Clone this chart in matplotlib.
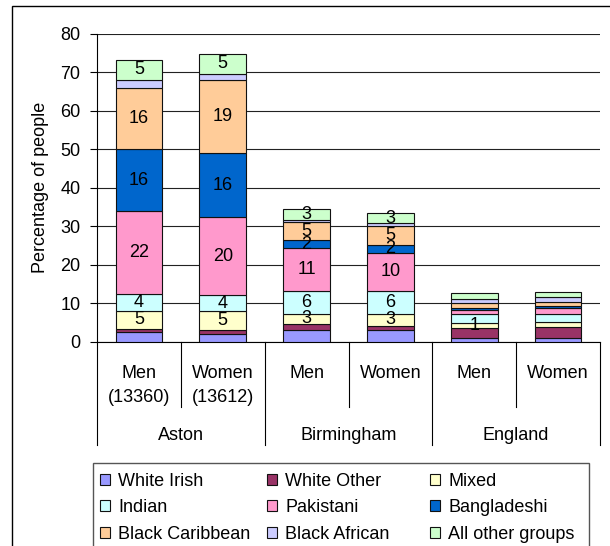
import matplotlib
matplotlib.use("Agg")
import matplotlib.pyplot as plt
from matplotlib.patches import Rectangle
from matplotlib import transforms
import numpy as np

plt.rcParams['font.family'] = ['Liberation Sans', 'DejaVu Sans']

# ---- data ----
categories = ["Men\n(13360)", "Women\n(13612)", "Men", "Women", "Men", "Women"]
groups = ["Aston", "Birmingham", "England"]

series_names = ["White Irish", "White Other", "Mixed", "Indian", "Pakistani",
                "Bangladeshi", "Black Caribbean", "Black African", "All other groups"]

white_irish     = [2.5, 2.2, 3.0, 3.0, 1.0, 1.0]
white_other     = [1.0, 0.9, 1.7, 1.2, 2.7, 2.9]
mixed           = [4.6, 5.0, 2.6, 3.1, 1.3, 1.3]
indian          = [4.3, 4.0, 6.0, 6.0, 2.2, 2.1]
pakistani       = [21.6, 20.4, 11.0, 9.9, 1.2, 1.6]
bangladeshi     = [16.0, 16.4, 2.1, 1.9, 0.4, 0.5]
black_caribbean = [15.8, 19.1, 4.7, 5.1, 1.4, 1.0]
black_african   = [2.1, 1.6, 0.5, 0.6, 1.0, 1.2]
all_other       = [5.3, 5.1, 3.0, 2.7, 1.6, 1.3]

# value labels shown on the chart (None = not shown)
white_irish_lbl     = [None] * 6
white_other_lbl     = [None] * 6
mixed_lbl           = [5, 5, 3, 3, 1, None]
indian_lbl          = [4, 4, 6, 6, None, None]
pakistani_lbl       = [22, 20, 11, 10, None, None]
bangladeshi_lbl     = [16, 16, 2, 2, None, None]
black_caribbean_lbl = [16, 19, 5, 5, None, None]
black_african_lbl   = [None] * 6
all_other_lbl       = [5, 5, 3, 3, None, None]

colors = ["#9999FF", "#993366", "#FFFFCC", "#CCFFFF", "#FF99CC",
          "#0066CC", "#FFCC99", "#CCCCFF", "#CCFFCC"]

values = [white_irish, white_other, mixed, indian, pakistani,
          bangladeshi, black_caribbean, black_african, all_other]
labels = [white_irish_lbl, white_other_lbl, mixed_lbl, indian_lbl, pakistani_lbl,
          bangladeshi_lbl, black_caribbean_lbl, black_african_lbl, all_other_lbl]

# ---- figure ----
W, H = 610, 546
fig = plt.figure(figsize=(W / 100, H / 100), dpi=100)

def fx(px):
    return px / W

def fy(py):
    return 1 - py / H

ax = fig.add_axes([fx(97), fy(342), fx(600) - fx(97), fy(33.5) - fy(342)])

x = np.arange(len(categories))
bottom = np.zeros(len(categories))
containers = []
for name, vals, col, lbls in zip(series_names, values, colors, labels):
    vals = np.array(vals)
    bc = ax.bar(x, vals, width=0.557, bottom=bottom, color=col,
                edgecolor="#111111", linewidth=0.8, label=name, zorder=3)
    containers.append(bc)
    for xi, b, v, l in zip(x, bottom, vals, lbls):
        if l is not None:
            ax.text(xi, b + v / 2, str(l), ha="center", va="center",
                    fontsize=13, color="black", zorder=4)
    bottom = bottom + vals

ax.set_xlim(-0.5, len(categories) - 0.5)
ax.set_ylim(0, 80)
ax.set_yticks(np.arange(0, 81, 10))
ax.tick_params(axis="y", length=5, width=0.8, pad=7, labelsize=13, color="black")
ax.set_xticks([])
ax.grid(axis="y", color="#222222", linewidth=0.8, zorder=0)
ax.set_axisbelow(True)
for s in ["top", "right"]:
    ax.spines[s].set_visible(False)
for s in ["left", "bottom"]:
    ax.spines[s].set_color("black")
    ax.spines[s].set_linewidth(0.8)

ax.set_ylabel("Percentage of people", fontsize=13)
ax.yaxis.set_label_coords(-0.113, 0.5)
ax.yaxis.label.set_va("center")

# ---- hierarchical category axis ----
tr = transforms.blended_transform_factory(ax.transData, fig.transFigure)
n = len(categories)
for i in range(n + 1):
    xb = i - 0.5
    bottom_px = 445 if i % 2 == 0 else 407
    ax.plot([xb, xb], [fy(342), fy(bottom_px)], transform=tr, color="black",
            linewidth=0.8, clip_on=False)

line_baselines = [377.7, 401.7]
for i, cat in enumerate(categories):
    for j, line in enumerate(cat.split("\n")):
        ax.text(i, fy(line_baselines[j]), line, transform=tr, ha="center",
                va="baseline", fontsize=13)

for g, name in enumerate(groups):
    ax.text(2 * g + 0.5, fy(440), name, transform=tr, ha="center",
            va="baseline", fontsize=13)

# ---- legend (3 columns, row-wise order) ----
col_x = [100, 267, 430]
for c in range(3):
    hs = [containers[c + 3 * r] for r in range(3)]
    ls = [series_names[c + 3 * r] for r in range(3)]
    fig.legend(hs, ls, loc="upper left", bbox_to_anchor=(fx(col_x[c]), fy(472.5)),
               bbox_transform=fig.transFigure, frameon=False, fontsize=13,
               handlelength=0.55, handleheight=0.55, handletextpad=0.45,
               labelspacing=0.54, borderpad=0, borderaxespad=0)

fig.add_artist(Rectangle((fx(93), fy(560)), fx(589) - fx(93), fy(463) - fy(560),
                         transform=fig.transFigure, fill=False,
                         edgecolor="#555555", linewidth=1))

# outer chart border (cropped at right and bottom)
fig.add_artist(Rectangle((fx(12), fy(600)), fx(700) - fx(12), fy(6) - fy(600),
                         transform=fig.transFigure, fill=False,
                         edgecolor="black", linewidth=1))

fig.savefig("out.png", dpi=100)
